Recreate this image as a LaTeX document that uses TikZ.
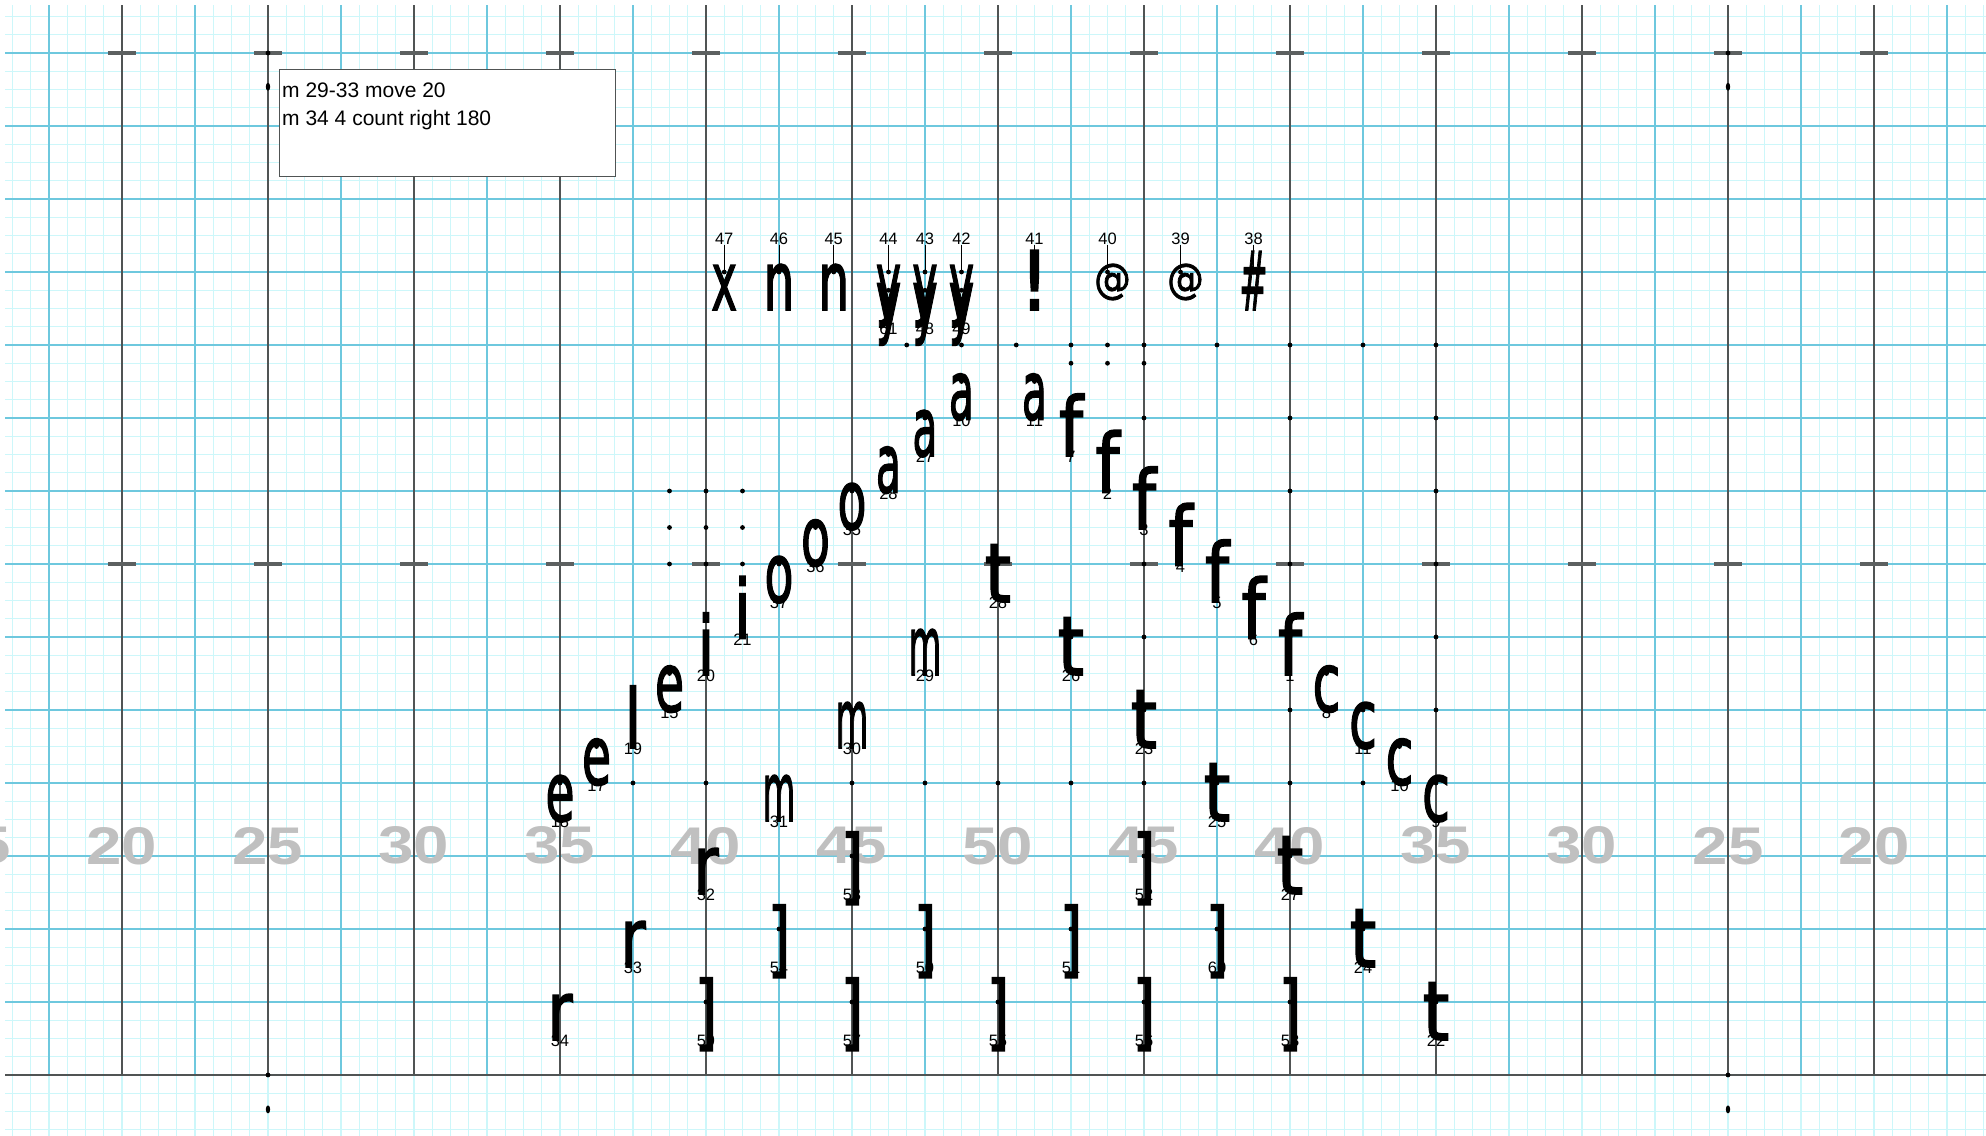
\documentclass[tikz,border=0pt]{standalone}
\usepackage{fontspec}
\usepackage{graphicx}
\setmainfont{Liberation Sans}
\newfontfamily\symfont[FakeBold=2]{DejaVu Sans}
\definecolor{minorcyan}{RGB}{205,247,250}
\definecolor{midblue}{RGB}{110,200,222}
\definecolor{yardgray}{RGB}{80,84,84}
\definecolor{hashgray}{RGB}{92,96,96}
\definecolor{numgray}{RGB}{192,192,192}
\begin{document}
\begin{tikzpicture}[x=18.25pt, y=18.25pt,
    minorline/.style={minorcyan, line width=1.4pt},
    midline/.style={midblue, line width=1.8pt},
    yardline/.style={yardgray, line width=1.4pt},
    hashmark/.style={hashgray, line width=3.4pt},
    yardnum/.style={text=numgray, inner sep=0pt, font=\bfseries\fontsize{53}{53}\selectfont},
    symb/.style={anchor=base, inner sep=0pt, font=\symfont\fontsize{82}{82}\selectfont},
    atsymb/.style={anchor=base, inner sep=0pt, font=\symfont\fontsize{41.5}{41.5}\selectfont},
    numlab/.style={inner sep=0pt, font=\fontsize{16.5}{16.5}\selectfont},
    leader/.style={black, line width=0.8pt},
    notebox/.style={draw=yardgray, fill=white, line width=1.4pt, anchor=north west,
      minimum width=336pt, minimum height=107pt, inner sep=0pt},
    notetext/.style={anchor=base west, inner sep=0pt, font=\fontsize{21}{21}\selectfont}]

  % 画面范围
  \useasboundingbox (-54.685,-3.342) rectangle (54.137,58.904);
  \fill[white] (-54.685,-3.342) rectangle (54.137,58.904);
  \clip (-54.685,-3.342) rectangle (54.137,58.904);

  % 细网格：每一步一条
  \foreach \i in {-54,...,54} \draw[minorline] (\i,-3.342) -- (\i,58.63);
  \foreach \j in {-3,...,58} \draw[minorline] (-54.41,\j) -- (54.137,\j);

  % 每四步一条蓝线
  \foreach \i in {-52,-48,...,52} \draw[midline] (\i,0) -- (\i,58.63);
  \foreach \j in {4,8,...,56} \draw[midline] (-54.41,\j) -- (54.137,\j);

  % 码线、边线与 hash
  \foreach \i in {-48,-40,...,48} \draw[yardline] (\i,0) -- (\i,58.63);
  \draw[yardline, line width=2pt] (-54.41,0) -- (54.137,0);
  \foreach \i in {-48,-40,...,48} {
    \draw[hashmark] (\i-0.78,28) -- (\i+0.78,28);
    \draw[hashmark] (\i-0.78,56) -- (\i+0.78,56);
  }

  % 码数
  \foreach \v/\i [count=\c] in {15/-56,20/-48,25/-40,30/-32,35/-24,40/-16,45/-8,50/0,
      45/8,40/16,35/24,30/32,25/40,20/48}
    \node[yardnum] (yn\c) at (\i,12.56) {\scalebox{1.2}[1]{\v}};

  % 场边标记
  \fill (-40,56) circle (2.4pt);
  \fill (40,56) circle (2.4pt);
  \fill (-40,0) circle (2.4pt);
  \fill (40,0) circle (2.4pt);
  \fill (-40,54.15) ellipse (2.2pt and 4pt);
  \fill (40,54.15) ellipse (2.2pt and 4pt);
  \fill (-40,-1.885) ellipse (2.2pt and 4pt);
  \fill (40,-1.885) ellipse (2.2pt and 4pt);

  % 空位点
  \foreach \px/\py in {-5/40,-2/40,1/40,4/40,6/40,8/40,12/40,16/40,20/40,24/40,
      4/39,6/39,8/39, 8/36,16/36,24/36,
      -18/32,-16/32,-14/32,16/32,24/32, -18/30,-16/30,-14/30,
      -18/28,-16/28,-14/28,8/28,16/28,24/28, 8/24,24/24, 16/20,24/20,
      -20/16,-16/16,-8/16,-4/16,0/16,4/16,8/16,16/16,20/16}
    \fill (\px,\py) circle (2.4pt);

  % 队员：符号与编号（编号在下）
  \foreach \sym/\nr/\px/\py/\sx [count=\k] in {
      e/18/-24/16/.58, e/17/-22/18/.58, l/19/-20/20/.75, e/15/-18/22/.58,
      i/20/-16/24/.75, i/21/-14/26/.75, o/37/-12/28/.58, o/36/-10/30/.58, o/35/-8/32/.58,
      a/28/-6/34/.5, a/27/-4/36/.5, a/10/-2/38/.5, a/11/2/38/.5,
      f/7/4/36/.84, f/2/6/34/.84, f/3/8/32/.84, f/4/10/30/.84, f/5/12/28/.84,
      f/6/14/26/.84, f/1/16/24/.84,
      c/8/18/22/.62, c/11/20/20/.62, c/10/22/18/.62, c/9/24/16/.62,
      t/28/0/28/.82, t/26/4/24/.82, t/23/8/20/.82, t/25/12/16/.82,
      t/27/16/12/.82, t/24/20/8/.82, t/22/24/4/.82,
      m/29/-4/24/.41, m/30/-8/20/.41, m/31/-12/16/.41,
      r/32/-16/12/.75, r/33/-20/8/.75, r/34/-24/4/.75,
      ]/53/-8/12/.72, ]/52/8/12/.72, ]/54/-12/8/.72, ]/50/-4/8/.72, ]/51/4/8/.72,
      ]/60/12/8/.72, ]/59/-16/4/.72, ]/57/-8/4/.72, ]/55/0/4/.72, ]/56/8/4/.72, ]/58/16/4/.72,
      y/61/-6/43/.52, y/48/-4/43/.52, y/49/-2/43/.52} {
    \coordinate (pb\k) at (\px,\py);
    \fill (pb\k) circle (2.4pt);
    \node[symb] (sb\k) at ([yshift=-38pt]pb\k) {\scalebox{\sx}[1]{\sym}};
    \node[numlab] (nb\k) at ([yshift=-39pt]pb\k) {\nr};
  }

  % 前排：编号在上，引线连到点
  \foreach \sym/\nr/\px/\py/\sx [count=\k] in {
      x/47/-15/44/.53, n/46/-12/44/.6, n/45/-9/44/.6, y/44/-6/44/.52,
      y/43/-4/44/.52, y/42/-2/44/.52, !/41/2/44/.95, \#/38/14/44/.41} {
    \coordinate (pa\k) at (\px,\py);
    \fill (pa\k) circle (2.4pt);
    \node[symb] (sa\k) at ([yshift=-38pt]pa\k) {\scalebox{\sx}[1]{\sym}};
    \node[numlab] (na\k) at ([yshift=33pt]pa\k) {\nr};
    \draw[leader] (na\k.south) -- (pa\k);
  }
  \foreach \nr/\px [count=\k] in {40/6, 39/10} {
    \coordinate (pc\k) at (\px,44);
    \fill (pc\k) circle (2.4pt);
    \node[atsymb] (sc\k) at ([xshift=5pt,yshift=-21pt]pc\k) {\scalebox{0.88}[1]{@}};
    \node[numlab] (nc\k) at ([yshift=33pt]pc\k) {\nr};
    \draw[leader] (nc\k.south) -- (pc\k);
  }

  % 说明框
  \node[notebox] (notes) at (-39.4,55.12) {};
  \node[notetext] (note1) at (-39.23,53.57) {m 29-33 move 20};
  \node[notetext] (note2) at (-39.23,52.04) {m 34 4 count right 180};
\end{tikzpicture}
\end{document}
